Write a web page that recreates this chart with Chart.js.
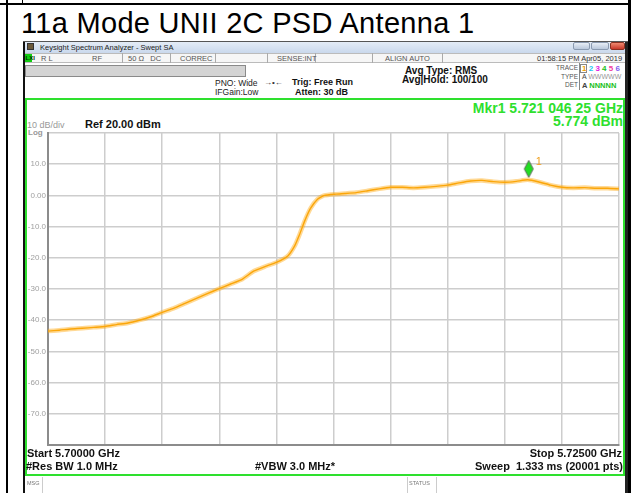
<!DOCTYPE html>
<html><head><meta charset="utf-8">
<script src="https://cdn.jsdelivr.net/npm/chart.js@4/dist/chart.umd.min.js"></script>
<style>
html,body{margin:0;padding:0;background:#fff;}
body{width:631px;height:493px;position:relative;overflow:hidden;font-family:"Liberation Sans",Arial,sans-serif;}
.a{position:absolute;white-space:nowrap;line-height:1;}
.b{font-weight:bold;}
.sm{font-size:7.5px;color:#555;}
.sep{position:absolute;top:53px;height:10px;width:1px;background:#aaa;}
</style></head><body>

<!-- page borders -->
<div class="a" style="left:0;top:3px;width:631px;height:2px;background:#000"></div>
<div class="a" style="left:6px;top:0;width:2px;height:493px;background:#000"></div>
<div class="a" style="left:22px;top:0;width:1px;height:4px;background:#000"></div>
<div class="a" style="left:628px;top:0;width:3px;height:493px;background:#000"></div>

<div class="a" style="left:21px;top:8.5px;font-size:29px;letter-spacing:0.3px;color:#000">11a Mode UNII 2C PSD Antenna 1</div>

<!-- window -->
<div class="a" style="left:23px;top:41px;width:2px;height:452px;background:#111"></div>
<div class="a" style="left:625px;top:41px;width:3px;height:452px;background:#222"></div>
<div class="a" style="left:23px;top:41px;width:605px;height:1px;background:#555"></div>
<div class="a" style="left:25px;top:42px;width:600px;height:11px;background:linear-gradient(#e4ecf6,#c9d8ec)"></div>
<div class="a" style="left:27px;top:43px;width:7px;height:7px;background:#6b5a3a;border:1px solid #333;box-sizing:border-box"></div>
<div class="a" style="left:40px;top:43.5px;font-size:7.5px;color:#222">Keysight Spectrum Analyzer - Swept SA</div>
<div class="a" style="left:573px;top:42px;width:17px;height:8px;background:linear-gradient(#e8eef6,#b9c8dc);border:1px solid #8a9ab0;box-sizing:border-box;border-radius:2px"></div>
<div class="a" style="left:591px;top:42px;width:18px;height:8px;background:linear-gradient(#e8eef6,#b9c8dc);border:1px solid #8a9ab0;box-sizing:border-box;border-radius:2px"></div>
<div class="a" style="left:610px;top:42px;width:15px;height:8px;background:linear-gradient(#f08a70,#c8392a);border:1px solid #8a3020;box-sizing:border-box;border-radius:2px"></div>

<!-- status row -->
<div class="a" style="left:25px;top:53px;width:600px;height:10px;background:#f6f6f6;border-top:1px solid #bbb;border-bottom:1px solid #bbb;box-sizing:border-box"></div>
<div class="a" style="left:25px;top:54px;width:7px;height:8px;background:#1c1;"></div>
<div class="a" style="left:25.5px;top:55px;font-size:6px;color:#030;font-weight:bold">LXI</div>
<div class="sep" style="left:122px"></div><div class="sep" style="left:170px"></div>
<div class="sep" style="left:215px"></div><div class="sep" style="left:267px"></div>
<div class="sep" style="left:315px"></div><div class="sep" style="left:372px"></div>
<div class="sep" style="left:442px"></div>
<div class="a sm" style="left:41px;top:55px">R L</div>
<div class="a sm" style="left:92px;top:55px">RF</div>
<div class="a sm" style="left:128px;top:55px">50 Ω&nbsp;&nbsp;&nbsp;DC</div>
<div class="a sm" style="left:180px;top:55px">CORREC</div>
<div class="a sm" style="left:277px;top:55px">SENSE:INT</div>
<div class="a sm" style="left:385px;top:55px">ALIGN AUTO</div>
<div class="a sm" style="left:537px;top:55px;color:#333">01:58:15 PM Apr05, 2019</div>

<!-- settings area -->
<div class="a" style="left:25px;top:65px;width:221px;height:12px;background:#d4d4d4;border:1px solid #8a8a8a;box-sizing:border-box"></div>
<div class="a" style="left:215px;top:79px;font-size:8.5px;color:#222">PNO: Wide</div>
<div class="a" style="left:215px;top:88px;font-size:8.5px;color:#222">IFGain:Low</div>
<div class="a" style="left:264px;top:79px;font-size:8px;color:#333">→•←</div>
<div class="a b" style="left:292px;top:78px;font-size:9px;color:#111">Trig: Free Run</div>
<div class="a b" style="left:295px;top:88px;font-size:9px;color:#111">Atten: 30 dB</div>
<div class="a b" style="left:405px;top:66px;font-size:10px;color:#111">Avg Type: RMS</div>
<div class="a b" style="left:402px;top:75px;font-size:10px;color:#111">Avg|Hold: 100/100</div>
<div class="a" style="left:556px;top:65px;font-size:6.5px;color:#555">TRACE</div>
<div class="a" style="left:561px;top:73.5px;font-size:6.5px;color:#555">TYPE</div>
<div class="a" style="left:565px;top:82px;font-size:6.5px;color:#555">DET</div>
<div class="a" style="left:579px;top:63px;width:1px;height:27px;background:#888"></div>
<div class="a" style="left:580px;top:64px;width:7px;height:9px;border:1px solid #888;box-sizing:border-box"></div>
<div class="a b" style="left:582px;top:65px;font-size:8px"><span style="color:#f0a000">1</span>&nbsp;<span style="color:#20c8f0">2</span>&nbsp;<span style="color:#e020e0">3</span>&nbsp;<span style="color:#20c020">4</span>&nbsp;<span style="color:#f040a0">5</span>&nbsp;<span style="color:#8060f0">6</span></div>
<div class="a" style="left:582px;top:73px;font-size:7px;color:#444">A <span style="color:#999">WWWWW</span></div>
<div class="a b" style="left:582px;top:82px;font-size:7.5px;color:#444">A <span style="color:#20c020">NNNNN</span></div>

<!-- green display box -->
<div class="a" style="left:25px;top:98px;width:600px;height:378px;border:2px solid #2ee02e;box-sizing:border-box"></div>
<div class="a b" style="right:8px;top:101px;font-size:14px;color:#2ee02e">Mkr1 5.721 046 25 GHz</div>
<div class="a b" style="right:8px;top:114px;font-size:14px;color:#2ee02e">5.774 dBm</div>
<div class="a" style="left:27px;top:121px;font-size:9px;color:#999">10 dB/div</div>
<div class="a b" style="left:28px;top:128.5px;font-size:8px;color:#999">Log</div>
<div class="a b" style="left:85px;top:119px;font-size:11px;color:#111">Ref 20.00 dBm</div>

<div class="a" style="left:24px;top:110px;width:602px;height:345px"><canvas id="c" width="602" height="345"></canvas></div>

<div class="a b" style="left:27px;top:448px;font-size:11px;color:#111">Start 5.70000 GHz</div>
<div class="a b" style="left:26px;top:461px;font-size:11px;color:#111">#Res BW 1.0 MHz</div>
<div class="a b" style="left:255px;top:461px;font-size:11px;color:#111">#VBW 3.0 MHz*</div>
<div class="a b" style="right:9px;top:448px;font-size:11px;color:#111">Stop 5.72500 GHz</div>
<div class="a b" style="right:8px;top:461px;font-size:11px;color:#111">Sweep&nbsp;&nbsp;1.333 ms (20001 pts)</div>

<!-- message row -->
<div class="a" style="left:42px;top:477px;width:1px;height:16px;background:#ccc"></div>
<div class="a" style="left:407px;top:477px;width:1px;height:16px;background:#ccc"></div>
<div class="a" style="left:436px;top:477px;width:1px;height:16px;background:#ccc"></div>
<div class="a" style="left:27px;top:481px;font-size:5.5px;color:#777">MSG</div>
<div class="a" style="left:409px;top:481px;font-size:5.5px;color:#777">STATUS</div>

<script>
const freqMHz = [5700.0,5700.5,5701.0,5701.5,5702.0,5702.5,5703.0,5703.5,5704.0,5704.5,
  5705.0,5705.5,5706.0,5706.5,5707.0,5707.5,5708.0,5708.5,5709.0,5709.5,
  5710.0,5710.5,5710.8,5711.0,5711.25,5711.5,5711.8,5712.1,5712.6,5713.0,
  5713.5,5714.0,5714.5,5715.0,5715.5,5716.0,5716.5,5717.0,5717.5,5718.0,
  5718.5,5719.0,5719.5,5720.0,5720.5,5721.0,5721.5,5722.0,5722.5,5723.0,
  5723.5,5724.0,5724.5,5725.0];
const levelDbm = [-43.5,-43.2,-42.8,-42.6,-42.3,-42.0,-41.4,-40.9,-40.0,-38.9,
  -37.5,-36.2,-34.6,-33.0,-31.4,-29.9,-28.4,-26.9,-24.3,-22.8,
  -21.5,-19.4,-16.2,-12.8,-8.0,-4.1,-1.2,0.0,0.4,0.6,
  0.9,1.5,2.1,2.6,2.6,2.4,2.6,2.9,3.3,4.0,
  4.6,4.8,4.4,4.2,4.5,5.0,4.3,3.3,2.6,2.4,
  2.5,2.3,2.3,2.1];
const markerFreqMHz = [5721.04625];
const markerLevelDbm = [5.774];
const markerNames = ['1'];
const yTickValues = [20,10,0,-10,-20,-30,-40,-50,-60,-70,-80];
const yTickLabels = ['','10.0','0.00','-10.0','-20.0','-30.0','-40.0','-50.0','-60.0','-70.0',''];

const trace = freqMHz.map((f,i)=>({x:f,y:levelDbm[i]}));
const marks = markerFreqMHz.map((f,i)=>({x:f,y:markerLevelDbm[i]}));

// diamond marker symbol (bottom tip sits on the marker point)
const dia = document.createElement('canvas');
dia.width = 12; dia.height = 36;
(function(){const g=dia.getContext('2d');g.beginPath();g.moveTo(6,1);g.lineTo(10.5,9.5);g.lineTo(6,18);g.lineTo(1.5,9.5);g.closePath();
g.fillStyle='#22dd22';g.fill();g.strokeStyle='#5a5a5a';g.lineWidth=0.9;g.stroke();})();

const markerLabel = {
  id:'markerLabel',
  afterDatasetsDraw(chart){
    const meta = chart.getDatasetMeta(2); const ctx = chart.ctx;
    ctx.save(); ctx.fillStyle='#f0a020'; ctx.font='11px "Liberation Sans", Arial'; ctx.textBaseline='middle';
    meta.data.forEach((p,i)=>{ ctx.fillText(markerNames[i], p.x+7, p.y-15); });
    ctx.restore();
  }
};

new Chart(document.getElementById('c'), {
  type:'line',
  data:{datasets:[
    {data:trace, borderColor:'rgba(255,170,20,0.45)', borderWidth:4.5, pointRadius:0, tension:0.15},
    {data:trace, borderColor:'#f7a200', borderWidth:1.4, pointRadius:0, tension:0.15},
    {data:marks, showLine:false, pointStyle:dia, pointRadius:6}
  ]},
  options:{
    responsive:false, devicePixelRatio:1, animation:false,
    layout:{padding:{top:23,right:4,bottom:10,left:0}},
    plugins:{legend:{display:false},tooltip:{enabled:false}},
    scales:{
      x:{type:'linear', min:5700, max:5725,
        ticks:{display:false, stepSize:2.5},
        grid:{color:'#cdcdcd', lineWidth:1.5, drawTicks:false},
        border:{color:'#8c8c8c', width:2}},
      y:{type:'linear', min:-80, max:20,
        afterBuildTicks(s){ s.ticks = yTickValues.map(v=>({value:v})); },
        afterFit(s){ s.width = 24; },
        ticks:{color:'#a0a0a0', padding:2, font:{family:'"Liberation Sans", Arial', size:8},
          callback:(v)=>{const i=yTickValues.indexOf(v); return i>=0?yTickLabels[i]:'';}},
        grid:{color:'#cdcdcd', lineWidth:1.5, drawTicks:false},
        border:{color:'#8c8c8c', width:2}}
    }
  },
  plugins:[markerLabel]
});
</script>
</body></html>
